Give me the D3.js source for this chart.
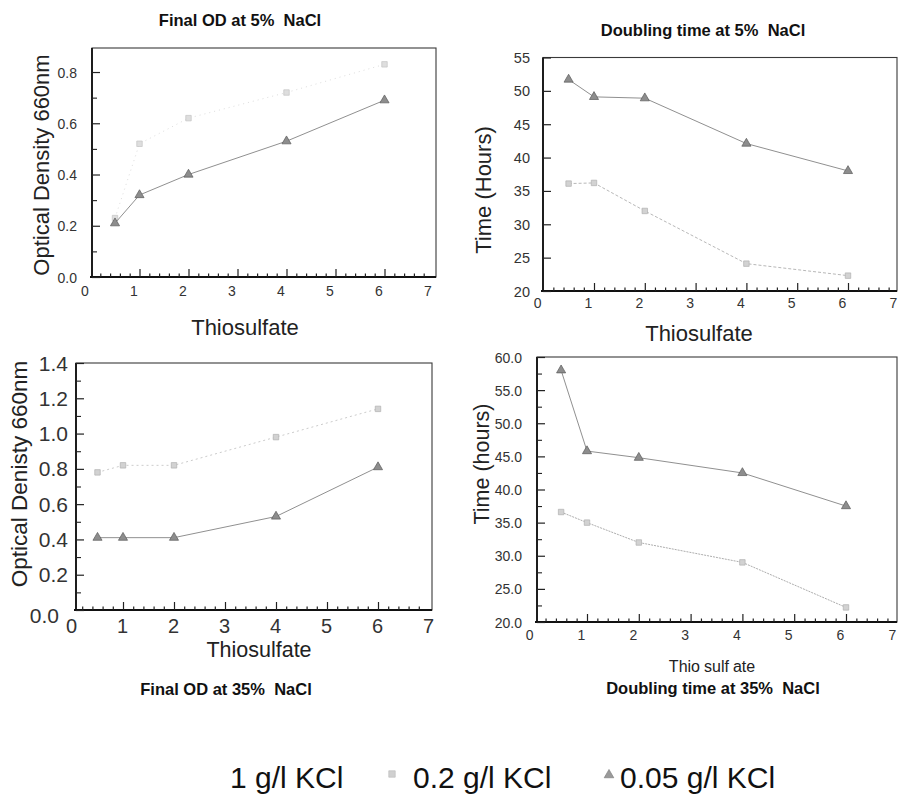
<!DOCTYPE html>
<html>
<head>
<meta charset="utf-8">
<script src="https://cdn.jsdelivr.net/npm/d3@7"></script>
<style>
  html, body { margin: 0; padding: 0; background: #fff; }
  svg { display: block; font-family: "Liberation Sans", Arial, sans-serif; }
</style>
</head>
<body>
<svg id="chart" width="898" height="794"></svg>
<script>
// Thiosulfate concentrations tested (x values shared by every panel)
const thiosulfate = [0.5, 1, 2, 4, 6];
const kclLevels = ["1 g/l KCl", "0.2 g/l KCl", "0.05 g/l KCl"];

// Final OD (660 nm) at 5% NaCl
const od5_kcl02  = [0.23, 0.52, 0.62, 0.72, 0.83];
const od5_kcl005 = [0.21, 0.32, 0.40, 0.53, 0.69];

// Doubling time (hours) at 5% NaCl
const dt5_kcl02  = [36.1, 36.2, 32.0, 24.1, 22.3];
const dt5_kcl005 = [51.7, 49.1, 48.9, 42.1, 38.0];

// Final OD (660 nm) at 35% NaCl
const od35_kcl02  = [0.78, 0.82, 0.82, 0.98, 1.14];
const od35_kcl005 = [0.41, 0.41, 0.41, 0.53, 0.81];

// Doubling time (hours) at 35% NaCl
const dt35_kcl02  = [36.6, 35.0, 32.0, 29.0, 22.2];
const dt35_kcl005 = [58.0, 45.8, 44.8, 42.5, 37.5];

// Tick values
const xTicks    = [0, 1, 2, 3, 4, 5, 6, 7];
const odTicks5  = [0.0, 0.2, 0.4, 0.6, 0.8];
const dtTicks5  = [20, 25, 30, 35, 40, 45, 50, 55];
const odTicks35 = [0.0, 0.2, 0.4, 0.6, 0.8, 1.0, 1.2, 1.4];
const dtTicks35 = [20, 25, 30, 35, 40, 45, 50, 55, 60];

const svg = d3.select("#chart");

// Marker / line looks for the two visible KCl levels
const styleKcl02 = {
  symbol: d3.symbolSquare, size: 30, fill: "#d2d2d2", stroke: "#b0b0b0",
  line: "#c6c6c6", dash: "2,2", width: 1
};
const styleKcl005 = {
  symbol: d3.symbolTriangle, size: 36, fill: "#8d8d8d", stroke: "#5a5a5a",
  line: "#909090", dash: null, width: 1
};

function zip(xs, ys) { return xs.map((v, i) => [v, ys[i]]); }

const panels = [
  {
    title: "Final OD at 5%  NaCl", titleX: 240, titleY: 26,
    frame: { l: 92, t: 48, r: 436, b: 277 },
    xRange: [90.5, 433.5], yDomain: [0, 0.9], yRange: [277, 46.4],
    yTicks: odTicks5, yMinor: [0.1, 0.3, 0.5, 0.7], yFmt: d3.format(".1f"),
    yLabelSize: 14, yLabelPad: 15, yLabelDy: 5,
    xLabelSize: 14, xLabelBase: 296, xLabelShift: -6,
    xTitle: "Thiosulfate", xTitleX: 245, xTitleY: 335, xTitleSize: 22,
    yTitle: "Optical Density 660nm", yTitleX: 49, yTitleY: 165, yTitleSize: 22,
    series: [
      { values: od5_kcl02, style: Object.assign({}, styleKcl02, { line: "#dddddd", dash: "1,4", fill: "#dedede", stroke: "#c4c4c4" }) },
      { values: od5_kcl005, style: styleKcl005 }
    ]
  },
  {
    title: "Doubling time at 5%  NaCl", titleX: 703, titleY: 36,
    frame: { l: 543, t: 57.5, r: 897, b: 291 },
    xRange: [543.2, 898.8], yDomain: [20, 55], yRange: [291, 57.5],
    yTicks: dtTicks5, yMinor: [], yFmt: d3.format("d"),
    yLabelSize: 14.5, yLabelPad: 13, yLabelDy: 5,
    xLabelSize: 14, xLabelBase: 308, xLabelShift: -6,
    xTitle: "Thiosulfate", xTitleX: 699, xTitleY: 341, xTitleSize: 22,
    yTitle: "Time (Hours)", yTitleX: 491, yTitleY: 190, yTitleSize: 22,
    series: [
      { values: dt5_kcl02, style: Object.assign({}, styleKcl02, { line: "#b8b8b8", dash: "3,2" }) },
      { values: dt5_kcl005, style: styleKcl005 }
    ]
  },
  {
    title: "Final OD at 35%  NaCl", titleX: 226, titleY: 695,
    frame: { l: 76, t: 363, r: 432, b: 610 },
    xRange: [72, 429], yDomain: [0, 1.4], yRange: [610, 363],
    yTicks: odTicks35, yMinor: [0.1, 0.3, 0.5, 0.7, 0.9, 1.1, 1.3], yFmt: d3.format(".1f"),
    yLabelSize: 21, yLabelPad: 8, yLabelDy: 7,
    xLabelSize: 20, xLabelBase: 633, xLabelShift: -1,
    xTitle: "Thiosulfate", xTitleX: 259, xTitleY: 657, xTitleSize: 21.5,
    yTitle: "Optical Denisty 660nm", yTitleX: 27, yTitleY: 474, yTitleSize: 22.5,
    zeroLabelShift: { dx: -9, dy: 5 },
    series: [
      { values: od35_kcl02, style: Object.assign({}, styleKcl02, { line: "#cccccc", dash: "2,3" }) },
      { values: od35_kcl005, style: styleKcl005 }
    ]
  },
  {
    title: "Doubling time at 35%  NaCl", titleX: 713, titleY: 694,
    frame: { l: 537, t: 357, r: 897, b: 622 },
    xRange: [535.2, 897.8], yDomain: [20, 60], yRange: [622, 357],
    yTicks: dtTicks35, yMinor: [22.5, 27.5, 32.5, 37.5, 42.5, 47.5, 52.5, 57.5], yFmt: d3.format(".1f"),
    yLabelSize: 14, yLabelPad: 15, yLabelDy: 5,
    xLabelSize: 14, xLabelBase: 640, xLabelShift: -6,
    xTitleParts: ["Thio", "sulf", "ate"], xTitleX: 712, xTitleY: 672, xTitleSize: 16,
    yTitle: "Time (hours)", yTitleX: 489, yTitleY: 464, yTitleSize: 21.5,
    series: [
      { values: dt35_kcl02, style: Object.assign({}, styleKcl02, { line: "#adadad", dash: "2,1" }) },
      { values: dt35_kcl005, style: styleKcl005 }
    ]
  }
];

function drawPanel(p) {
  const g = svg.append("g");
  const f = p.frame;
  const x = d3.scaleLinear().domain([0, 7]).range(p.xRange);
  const y = d3.scaleLinear().domain(p.yDomain).range(p.yRange);

  // plot frame
  g.append("rect")
    .attr("x", f.l).attr("y", f.t)
    .attr("width", f.r - f.l).attr("height", f.b - f.t)
    .attr("fill", "none").attr("stroke", "#3a3a3a").attr("stroke-width", 1.1);
  g.append("line").attr("x1", f.l).attr("x2", f.l).attr("y1", f.t).attr("y2", f.b)
    .attr("stroke", "#111").attr("stroke-width", 1.8);
  g.append("line").attr("x1", f.l - 2).attr("x2", f.r).attr("y1", f.b).attr("y2", f.b)
    .attr("stroke", "#111").attr("stroke-width", 1.8);

  // x major ticks (inward)
  const xMajor = g.append("g").attr("transform", `translate(0,${f.b})`)
    .call(d3.axisBottom(x).tickValues(xTicks.slice(1, -1)).tickSize(-8).tickSizeOuter(0).tickFormat(""));
  // x minor ticks every 0.2
  const minorX = d3.range(1, 35).map(i => i / 5).filter(v => Math.abs(v - Math.round(v)) > 1e-6);
  const xMin = g.append("g").attr("transform", `translate(0,${f.b})`)
    .call(d3.axisBottom(x).tickValues(minorX).tickSize(-3.5).tickSizeOuter(0).tickFormat(""));
  // x tick labels
  const xLab = g.append("g").attr("transform", `translate(0,${f.b})`)
    .call(d3.axisBottom(x).tickValues(xTicks).tickSize(0).tickFormat(d3.format("d")));
  [xMajor, xMin, xLab].forEach(a => {
    a.select(".domain").remove();
    a.selectAll(".tick line").attr("stroke", "#222").attr("stroke-width", 1.2);
  });
  xLab.selectAll(".tick text")
    .attr("y", p.xLabelBase - f.b).attr("dy", null)
    .attr("dx", p.xLabelShift)
    .attr("fill", "#333")
    .style("font-size", p.xLabelSize + "px")
    .style("font-family", "'Liberation Sans', Arial, sans-serif");

  // y ticks with labels
  const yAx = g.append("g").attr("transform", `translate(${f.l},0)`)
    .call(d3.axisLeft(y).tickValues(p.yTicks).tickSize(-8).tickSizeOuter(0)
      .tickPadding(p.yLabelPad).tickFormat(p.yFmt));
  yAx.select(".domain").remove();
  yAx.selectAll(".tick line").attr("stroke", "#222").attr("stroke-width", 1.2);
  yAx.selectAll(".tick text")
    .attr("dy", null).attr("y", p.yLabelDy)
    .attr("fill", "#333")
    .style("font-size", p.yLabelSize + "px")
    .style("font-family", "'Liberation Sans', Arial, sans-serif");
  if (p.zeroLabelShift) {
    yAx.selectAll(".tick text").filter(d => d === 0)
      .attr("dx", p.zeroLabelShift.dx).attr("y", p.yLabelDy + p.zeroLabelShift.dy);
  }
  if (p.yMinor.length) {
    const yMin = g.append("g").attr("transform", `translate(${f.l},0)`)
      .call(d3.axisLeft(y).tickValues(p.yMinor).tickSize(-5).tickSizeOuter(0).tickFormat(""));
    yMin.select(".domain").remove();
    yMin.selectAll(".tick line").attr("stroke", "#222").attr("stroke-width", 1.1);
  }

  // series lines and markers
  const line = d3.line().x(d => x(d[0])).y(d => y(d[1]));
  p.series.forEach(s => {
    const pts = zip(thiosulfate, s.values);
    g.append("path").datum(pts)
      .attr("d", line)
      .attr("fill", "none")
      .attr("stroke", s.style.line)
      .attr("stroke-width", s.style.width)
      .attr("stroke-dasharray", s.style.dash);
    g.selectAll(null).data(pts).enter().append("path")
      .attr("transform", d => `translate(${x(d[0])},${y(d[1])})`)
      .attr("d", d3.symbol().type(s.style.symbol).size(s.style.size))
      .attr("fill", s.style.fill)
      .attr("stroke", s.style.stroke)
      .attr("stroke-width", 0.7);
  });

  // panel title
  g.append("text")
    .attr("x", p.titleX).attr("y", p.titleY)
    .attr("text-anchor", "middle")
    .attr("fill", "#111")
    .style("font-size", "16.5px").style("font-weight", "bold")
    .style("white-space", "pre")
    .text(p.title);

  // x-axis title
  const xt = g.append("text")
    .attr("x", p.xTitleX).attr("y", p.xTitleY)
    .attr("text-anchor", "middle")
    .attr("fill", "#222")
    .style("font-size", p.xTitleSize + "px");
  if (p.xTitleParts) {
    p.xTitleParts.forEach((part, i) => {
      xt.append("tspan").attr("dx", i === 0 ? 0 : 4).text(part);
    });
  } else {
    xt.text(p.xTitle);
  }

  // y-axis title
  g.append("text")
    .attr("transform", `translate(${p.yTitleX},${p.yTitleY}) rotate(-90)`)
    .attr("text-anchor", "middle")
    .attr("fill", "#222")
    .style("font-size", p.yTitleSize + "px")
    .text(p.yTitle);
}

panels.forEach(drawPanel);

// Legend
const legend = svg.append("g").style("font-size", "30px").attr("fill", "#111");
legend.append("text").attr("x", 230).attr("y", 788).text(kclLevels[0]);
legend.append("path")
  .attr("transform", "translate(392,774)")
  .attr("d", d3.symbol().type(d3.symbolSquare).size(42))
  .attr("fill", "#d0d0d0").attr("stroke", "#b8b8b8").attr("stroke-width", 0.6);
legend.append("text").attr("x", 413).attr("y", 788).text(kclLevels[1]);
legend.append("path")
  .attr("transform", "translate(609,775)")
  .attr("d", d3.symbol().type(d3.symbolTriangle).size(40))
  .attr("fill", "#9a9a9a").attr("stroke", "#777").attr("stroke-width", 0.6);
legend.append("text").attr("x", 620).attr("y", 788).text(kclLevels[2]);
</script>
</body>
</html>
